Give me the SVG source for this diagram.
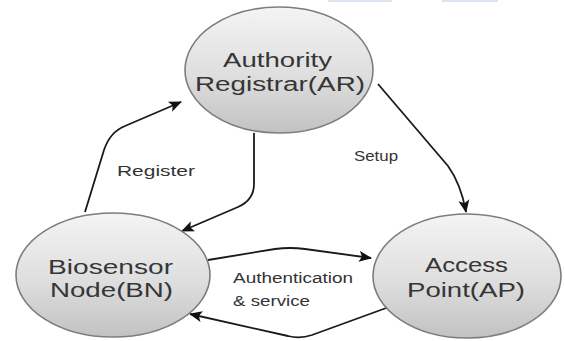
<svg xmlns="http://www.w3.org/2000/svg" width="565" height="341" viewBox="0 0 565 341">
  <defs>
    <linearGradient id="nodeFill" x1="0" y1="0" x2="0" y2="1">
      <stop offset="0" stop-color="#f4f4f4"/>
      <stop offset="0.55" stop-color="#dedede"/>
      <stop offset="1" stop-color="#c2c2c2"/>
    </linearGradient>
    <marker id="arrow" markerWidth="14" markerHeight="12" refX="12" refY="6" orient="auto" markerUnits="userSpaceOnUse">
      <path d="M0,0.5 L13,6 L0,11.5 L3,6 Z" fill="#111"/>
    </marker>
  </defs>
  <style>
    .node ellipse { fill: url(#nodeFill); stroke: #7d7d7d; stroke-width: 1.6; }
    .node text { font-family: "Liberation Sans", Arial, sans-serif; font-size: 19.5px; fill: #363636; }
    .edge { fill: none; stroke: #1a1a1a; stroke-width: 1.8; marker-end: url(#arrow); }
    .label { font-family: "Liberation Sans", Arial, sans-serif; font-size: 14px; fill: #333; }
  </style>

  <rect width="565" height="341" fill="#ffffff"/>
  <!-- faint bars along the top edge -->
  <rect x="328" y="0" width="64" height="2" fill="#dce6f2"/>
  <rect x="442" y="0" width="56" height="2" fill="#dce6f2"/>

  <g id="connectors">
    <!-- Register: BN -> AR -->
    <path class="edge" d="M85,212 L104,150 Q110,132 125,126 L181,102"/>
    <!-- AR -> BN -->
    <path class="edge" d="M254,133 L254,184 Q254,200 238,207 L182,231"/>
    <!-- Setup: AR -> AP -->
    <path class="edge" d="M378,84 L448,166 Q461,184 466,212"/>
    <!-- Authentication & service: BN -> AP -->
    <path class="edge" d="M208,260 L275,249 Q290,247 305,249 L371,258"/>
    <!-- AP -> BN -->
    <path class="edge" d="M389,307 L312,335 Q300,339 288,336 L190,314"/>
  </g>

  <g id="labels">
    <text class="label" x="117" y="176" textLength="78" lengthAdjust="spacingAndGlyphs">Register</text>
    <text class="label" x="354" y="161" textLength="44" lengthAdjust="spacingAndGlyphs">Setup</text>
    <text class="label" x="233" y="283" textLength="120" lengthAdjust="spacingAndGlyphs">Authentication</text>
    <text class="label" x="233" y="306" textLength="77" lengthAdjust="spacingAndGlyphs">&amp; service</text>
  </g>

  <g id="node-ar" class="node">
    <ellipse cx="279" cy="70" rx="94" ry="63"/>
    <text x="223" y="67" textLength="109" lengthAdjust="spacingAndGlyphs">Authority</text>
    <text x="195" y="91" textLength="170" lengthAdjust="spacingAndGlyphs">Registrar(AR)</text>
  </g>

  <g id="node-bn" class="node">
    <ellipse cx="113" cy="275" rx="97" ry="62"/>
    <text x="48" y="274" textLength="125" lengthAdjust="spacingAndGlyphs">Biosensor</text>
    <text x="50" y="297" textLength="123" lengthAdjust="spacingAndGlyphs">Node(BN)</text>
  </g>

  <g id="node-ap" class="node">
    <ellipse cx="467" cy="276" rx="94" ry="62"/>
    <text x="425" y="272" textLength="83" lengthAdjust="spacingAndGlyphs">Access</text>
    <text x="407" y="297" textLength="118" lengthAdjust="spacingAndGlyphs">Point(AP)</text>
  </g>
</svg>
